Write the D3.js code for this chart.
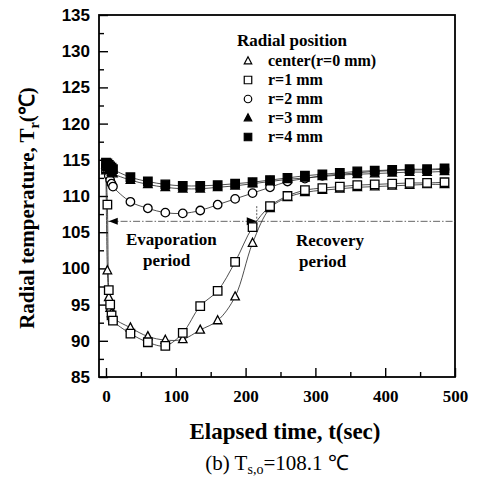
<!DOCTYPE html>
<html>
<head>
<meta charset="utf-8">
<script src="https://cdn.jsdelivr.net/npm/d3@7"></script>
<style>
  body { margin: 0; background: #fff; }
  svg { display: block; }
  .serif { font-family: "Liberation Serif", "Times New Roman", serif; }
  .sans { font-family: "Liberation Sans", Arial, sans-serif; }
</style>
</head>
<body>
<div id="chart"></div>
<script>
var WIDTH = 479;
var HEIGHT = 482;

// elapsed time (sec) of each reading
var times = [0, 2, 4, 6, 8, 10, 35, 60, 85, 110, 135, 160, 185, 210, 235, 260, 285, 310, 335, 360, 385, 410, 435, 460, 485];

// radial temperature (C) per position
var center = [113.5, 99.7, 96.0, 94.5, 93.8, 93.2, 91.8, 90.6, 90.1, 90.2, 91.5, 92.8, 96.1, 103.5, 108.3, 109.8, 110.5, 110.8, 111.0, 111.2, 111.3, 111.4, 111.5, 111.6, 111.6];
var r1 = [113.8, 108.8, 97.0, 95.0, 93.5, 92.8, 91.0, 89.8, 89.3, 91.1, 94.8, 96.9, 100.9, 105.7, 108.6, 110.0, 110.8, 111.1, 111.3, 111.5, 111.6, 111.7, 111.8, 111.8, 111.9];
var r2 = [114.0, 113.5, 112.8, 112.2, 111.7, 111.3, 109.2, 108.3, 107.7, 107.6, 108.0, 108.8, 109.6, 110.4, 111.2, 112.0, 112.4, 112.8, 113.0, 113.2, 113.4, 113.5, 113.6, 113.6, 113.7];
var r3 = [114.3, 114.0, 113.7, 113.5, 113.3, 113.1, 112.2, 111.6, 111.2, 111.0, 111.0, 111.2, 111.4, 111.7, 112.0, 112.3, 112.5, 112.7, 112.9, 113.0, 113.1, 113.2, 113.3, 113.3, 113.4];
var r4 = [114.6, 114.5, 114.3, 114.1, 113.9, 113.7, 112.6, 112.0, 111.6, 111.4, 111.4, 111.5, 111.7, 111.9, 112.2, 112.5, 112.8, 113.0, 113.2, 113.4, 113.5, 113.6, 113.7, 113.7, 113.8];

var seriesNames = ['center(r=0 mm)', 'r=1 mm', 'r=2 mm', 'r=3 mm', 'r=4 mm'];
var seriesValues = [center, r1, r2, r3, r4];
var seriesSymbols = ['triangle', 'square', 'circle', 'triangle', 'square'];
var seriesFilled = [false, false, false, true, true];

var xTicks = [0, 100, 200, 300, 400, 500];
var xMinor = [50, 150, 250, 350, 450];
var yTicks = [85, 90, 95, 100, 105, 110, 115, 120, 125, 130, 135];
var yMinor = [87.5, 92.5, 97.5, 102.5, 107.5, 112.5, 117.5, 122.5, 127.5, 132.5];

var periodLine = 106.5;   // level of the period arrows
var periodSplit = 216;    // end of evaporation period (sec)

var svg = d3.select('#chart').append('svg')
  .attr('width', WIDTH)
  .attr('height', HEIGHT);

svg.append('rect').attr('width', WIDTH).attr('height', HEIGHT).attr('fill', '#fff');

var x = d3.scaleLinear().domain([-10, 500]).range([99, 455]);
var y = d3.scaleLinear().domain([85, 135]).range([377, 15]);

function symbolPath (type, size) {
  var s = size / 2;
  if (type === 'square') {
    return 'M' + (-s) + ',' + (-s) + 'h' + size + 'v' + size + 'h' + (-size) + 'Z';
  }
  if (type === 'triangle') {
    var h = size * 0.95;
    return 'M0,' + (-h * 0.6) + 'L' + s + ',' + (h * 0.4) + 'L' + (-s) + ',' + (h * 0.4) + 'Z';
  }
  return d3.symbol().type(d3.symbolCircle).size(Math.PI * s * s)();
}

// axes: major ticks with labels, minor ticks without
var yAxis = svg.append('g')
  .attr('transform', 'translate(' + x.range()[0] + ',0)')
  .call(d3.axisLeft(y).tickValues(yTicks).tickSize(-9).tickPadding(9));
yAxis.selectAll('text')
  .attr('class', 'sans')
  .style('font-size', '17px')
  .style('font-weight', 'bold')
  .attr('fill', '#000');

svg.append('g')
  .attr('transform', 'translate(' + x.range()[0] + ',0)')
  .call(d3.axisLeft(y).tickValues(yMinor).tickSize(-5).tickFormat(''));

var xAxis = svg.append('g')
  .attr('transform', 'translate(0,' + y.range()[0] + ')')
  .call(d3.axisBottom(x).tickValues(xTicks).tickSize(-9).tickPadding(13));
xAxis.selectAll('text')
  .attr('class', 'serif')
  .style('font-size', '17px')
  .style('font-weight', 'bold')
  .attr('fill', '#000');

svg.append('g')
  .attr('transform', 'translate(0,' + y.range()[0] + ')')
  .call(d3.axisBottom(x).tickValues(xMinor).tickSize(-5).tickFormat(''));

svg.selectAll('.domain').remove();
svg.selectAll('.tick line').attr('stroke', '#000').attr('stroke-width', 1.4);

svg.append('rect')
  .attr('x', x.range()[0])
  .attr('y', y.range()[1])
  .attr('width', x.range()[1] - x.range()[0])
  .attr('height', y.range()[0] - y.range()[1])
  .attr('fill', 'none')
  .attr('stroke', '#000')
  .attr('stroke-width', 1.8);

// period arrows
svg.append('line')
  .attr('x1', x(3)).attr('x2', x(500))
  .attr('y1', y(periodLine)).attr('y2', y(periodLine))
  .attr('stroke', '#555')
  .attr('stroke-width', 0.9)
  .attr('stroke-dasharray', '7,2,1.5,2');
svg.append('line')
  .attr('x1', x(periodSplit)).attr('x2', x(periodSplit))
  .attr('y1', y(108.6)).attr('y2', y(106))
  .attr('stroke', '#444')
  .attr('stroke-width', 0.9)
  .attr('stroke-dasharray', '2,1.5');
svg.append('path')
  .attr('d', 'M' + x(4) + ',' + y(periodLine) + 'l9,-3.5v7Z')
  .attr('fill', '#000');
svg.append('path')
  .attr('d', 'M' + x(periodSplit) + ',' + y(periodLine) + 'l-10,-4v8Z')
  .attr('fill', '#000');

// series lines then markers
var line = d3.line()
  .x(function (d) { return x(d[0]); })
  .y(function (d) { return y(d[1]); })
  .curve(d3.curveCatmullRom);

seriesValues.forEach(function (vals) {
  var pts = times.map(function (t, i) { return [t, vals[i]]; });
  svg.append('path')
    .datum(pts)
    .attr('d', line)
    .attr('fill', 'none')
    .attr('stroke', '#222')
    .attr('stroke-width', 0.8);
});

seriesValues.forEach(function (vals, k) {
  svg.append('g').selectAll('path')
    .data(times.map(function (t, i) { return [t, vals[i]]; }))
    .enter()
      .append('path')
      .attr('transform', function (d) { return 'translate(' + x(d[0]) + ',' + y(d[1]) + ')'; })
      .attr('d', symbolPath(seriesSymbols[k], 8.5))
      .attr('fill', seriesFilled[k] ? '#000' : '#fff')
      .attr('stroke', '#000')
      .attr('stroke-width', 1.3);
});

// legend
var legend = svg.append('g').attr('class', 'serif').style('font-weight', 'bold');
legend.append('text')
  .attr('x', 237).attr('y', 46)
  .style('font-size', '17px')
  .text('Radial position');
seriesNames.forEach(function (name, k) {
  var by = 66 + k * 19;
  legend.append('path')
    .attr('transform', 'translate(248,' + (by - 5) + ')')
    .attr('d', symbolPath(seriesSymbols[k], 7.5))
    .attr('fill', seriesFilled[k] ? '#000' : '#fff')
    .attr('stroke', '#000')
    .attr('stroke-width', 1.2);
  legend.append('text')
    .attr('x', 268).attr('y', by)
    .style('font-size', '16px')
    .text(name);
});

// period annotations
var notes = svg.append('g').attr('class', 'serif').style('font-weight', 'bold').style('font-size', '17px');
notes.append('text').attr('x', 126).attr('y', 245).text('Evaporation');
notes.append('text').attr('x', 143).attr('y', 266).text('period');
notes.append('text').attr('x', 296).attr('y', 246).text('Recovery');
notes.append('text').attr('x', 299).attr('y', 267).text('period');

// axis titles
svg.append('text')
  .attr('class', 'serif')
  .attr('x', 285).attr('y', 439)
  .attr('text-anchor', 'middle')
  .style('font-size', '23px')
  .style('font-weight', 'bold')
  .text('Elapsed time, t(sec)');

var yTitle = svg.append('text')
  .attr('class', 'serif')
  .attr('transform', 'translate(34,208) rotate(-90)')
  .attr('text-anchor', 'middle')
  .style('font-size', '21px')
  .style('font-weight', 'bold');
yTitle.append('tspan').text('Radial temperature, T');
yTitle.append('tspan').attr('dy', 5).style('font-size', '14px').text('r');
yTitle.append('tspan').attr('dy', -5).text('(\u2103)');

var caption = svg.append('text')
  .attr('class', 'serif')
  .attr('x', 277).attr('y', 470)
  .attr('text-anchor', 'middle')
  .style('font-size', '21px');
caption.append('tspan').text('(b)  T');
caption.append('tspan').attr('dy', 4).style('font-size', '14px').text('s,o');
caption.append('tspan').attr('dy', -4).text('=108.1 \u2103');
</script>
</body>
</html>
